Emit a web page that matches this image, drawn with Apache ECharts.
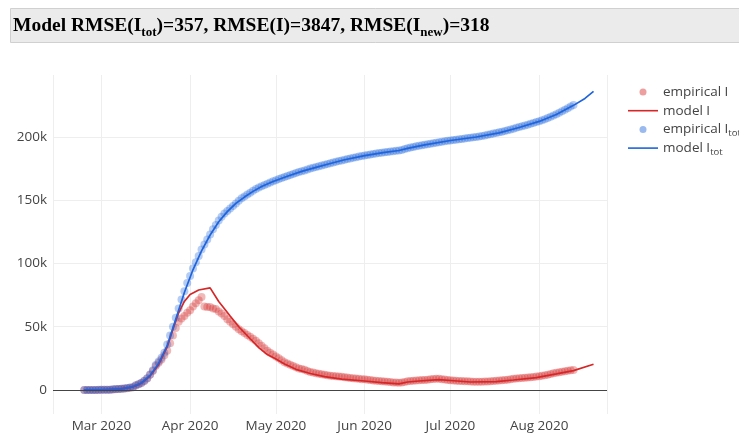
<!DOCTYPE html>
<html>
<head>
<meta charset="utf-8">
<script src="https://cdn.jsdelivr.net/npm/echarts@6/dist/echarts.min.js"></script>
<style>
html, body { margin: 0; padding: 0; background: #fff; }
#chartmain { width: 739px; height: 435px; }
</style>
</head>
<body>
<div id="chartmain"></div>
<script>
// daily empirical data, first day 2020-02-24, values in thousands
var empStart = [2020, 1, 24];
var empI = [
    0.02, 0.02, 0.03, 0.04, 0.05, 0.07,
    0.12, 0.15, 0.19, 0.24, 0.45, 0.64, 0.78, 1.0, 1.15, 1.4, 1.85, 2.05, 3.6, 4.5, 5.6, 7.1,
    9, 12, 15, 19, 21.5, 24, 27.5, 31, 37, 43, 49, 54, 56.5, 58.5, 61,
    63, 66, 68.5, 71, 73.5, 66, 65.5, 65.5, 64.5, 64, 62, 60.5, 58.5, 56, 54,
    52, 50, 48, 46.5, 45, 43.5, 42, 40.5, 39, 37, 35, 33, 31, 29.5, 28,
    26.5, 25, 23.5, 22, 21, 20, 19, 18, 17, 16.5, 16, 15, 14.3, 13.8, 13.2,
    12.8, 12.4, 12, 11.6, 11.3, 11, 10.8, 10.6, 10.4, 10.1, 9.8, 9.5, 9.2, 9, 8.8, 8.5,
    8.4, 8.1, 7.8, 7.5, 7.2, 7, 6.8, 6.6, 6.4, 6.2, 6, 5.9, 5.8, 5.9, 6.3,
    6.8, 7.1, 7.3, 7.5, 7.7, 7.8, 7.9, 8.0, 8.4, 8.7, 8.9, 8.8, 8.5, 8.2, 7.9,
    7.7, 7.5, 7.3, 7.1, 7.0, 6.9, 6.8, 6.6, 6.5, 6.5, 6.5, 6.5, 6.6, 6.7, 6.9,
    7.0, 7.2, 7.4, 7.6, 7.8, 8.1, 8.5, 8.8, 9.0, 9.2, 9.4, 9.6, 9.8, 10.0, 10.3, 10.6,
    10.9, 11.3, 11.7, 12.1, 12.6, 13.2, 13.6, 14.0, 14.4, 14.8, 15.2, 15.5, 15.8
];
var empItot = [
    0.02, 0.02, 0.03, 0.05, 0.06, 0.08,
    0.13, 0.16, 0.2, 0.26, 0.48, 0.67, 0.8, 1.04, 1.18, 1.46, 1.9, 2.1, 3.7, 4.6, 5.8, 7.3,
    9.3, 12.3, 15.5, 19.8, 22.5, 25.5, 29.5, 36, 43, 50, 57, 64.5, 71.5, 78, 84.5,
    90, 96, 101, 106, 111, 115, 119, 123, 127, 130.5, 134, 137, 139.5, 141.5, 143.5,
    145.5, 147.5, 149.5, 151.5, 153, 154.5, 156, 157.5, 158.8, 160, 161, 162, 163, 164, 165,
    165.8, 166.7, 167.5, 168.3, 169.2, 170, 170.8, 171.6, 172.3, 173, 173.6, 174.3, 175, 175.6, 176.2,
    176.8, 177.4, 178, 178.6, 179.2, 179.8, 180.4, 181, 181.5, 182, 182.5, 183, 183.5, 184, 184.5, 185,
    185.4, 185.8, 186.2, 186.6, 187, 187.3, 187.6, 187.9, 188.2, 188.5, 188.8, 189.1, 189.4, 189.8, 190.5,
    191.1, 191.6, 192.1, 192.6, 193, 193.4, 193.8, 194.2, 194.6, 195, 195.4, 195.8, 196.2, 196.6, 197,
    197.3, 197.6, 197.9, 198.2, 198.5, 198.8, 199.1, 199.4, 199.7, 200, 200.4, 200.8, 201.2, 201.7, 202.2,
    202.7, 203.2, 203.7, 204.2, 204.8, 205.4, 206, 206.6, 207.2, 207.8, 208.4, 209, 209.7, 210.4, 211.1, 211.8,
    212.5, 213.3, 214.1, 215, 216, 217, 218, 219.2, 220.4, 221.6, 222.8, 224, 225.2
];

// model curves
var modelIDates = ['2020-02-24', '2020-03-01', '2020-03-08', '2020-03-12', '2020-03-15', '2020-03-18',
    '2020-03-21', '2020-03-24', '2020-03-26', '2020-03-28', '2020-03-30', '2020-04-01', '2020-04-04',
    '2020-04-08', '2020-04-11', '2020-04-15', '2020-04-18', '2020-04-22', '2020-04-25', '2020-04-28',
    '2020-05-01', '2020-05-04', '2020-05-08', '2020-05-13', '2020-05-18', '2020-05-24', '2020-06-01',
    '2020-06-07', '2020-06-13', '2020-06-16', '2020-06-20', '2020-06-27', '2020-07-01', '2020-07-08',
    '2020-07-17', '2020-07-23', '2020-07-31', '2020-08-07', '2020-08-13', '2020-08-20'];
var modelI = [0, 0.1, 0.9, 2.4, 5.4, 11,
    20, 34, 48, 61, 70, 75.5, 79,
    80.7, 70, 58.5, 50, 40.5, 33.5, 28,
    24.5, 20.5, 16.3, 13, 10.5, 8.5, 7.1,
    5.8, 4.8, 6.3, 7.1, 8.2, 7.5, 6.3,
    6.6, 7.9, 9.8, 12.7, 15.3, 20.3];

var modelTotDates = ['2020-02-24', '2020-03-01', '2020-03-08', '2020-03-12', '2020-03-15', '2020-03-18',
    '2020-03-21', '2020-03-24', '2020-03-27', '2020-03-30', '2020-04-02', '2020-04-05', '2020-04-08',
    '2020-04-11', '2020-04-14', '2020-04-17', '2020-04-20', '2020-04-23', '2020-04-26', '2020-04-30',
    '2020-05-05', '2020-05-10', '2020-05-15', '2020-05-20', '2020-05-25', '2020-06-01', '2020-06-08',
    '2020-06-13', '2020-06-16', '2020-06-22', '2020-07-01', '2020-07-10', '2020-07-18', '2020-07-25',
    '2020-08-01', '2020-08-07', '2020-08-13', '2020-08-17', '2020-08-20'];
var modelTot = [0, 0.1, 0.9, 2.5, 5.5, 11.5,
    21, 35, 56, 77, 95, 110, 122.5,
    133, 141, 147.5, 152.5, 157, 160.8, 164.8,
    169, 172.8, 176, 179, 182, 185.3, 187.8,
    189.3, 191, 193.7, 197.2, 200, 203.3, 207.5,
    212.3, 217.8, 225, 230.5, 236];

function empPairs(vals) {
    var out = [];
    for (var i = 0; i < vals.length; i++) {
        out.push([new Date(empStart[0], empStart[1], empStart[2] + i).getTime(), vals[i]]);
    }
    return out;
}
function modelPairs(dates, vals) {
    var out = [];
    for (var i = 0; i < dates.length; i++) {
        var p = dates[i].split('-');
        out.push([new Date(+p[0], +p[1] - 1, +p[2]).getTime(), vals[i]]);
    }
    return out;
}

var legendNames = {
    'empirical I': 'empirical I',
    'model I': 'model I',
    'empirical Itot': 'empirical I{sub|tot}',
    'model Itot': 'model I{sub|tot}'
};

var font = '"Open Sans", Verdana, Arial, sans-serif';
var lineIcon = 'path://M0,0h30v1.6h-30z';
var red = 'rgb(214,39,40)';
var blue = 'rgb(31,100,220)';

var option = {
    animation: false,
    backgroundColor: '#fff',
    graphic: [{
        type: 'rect',
        shape: { x: 10.5, y: 8.5, width: 740, height: 34 },
        style: { fill: '#ebebeb', stroke: '#d0d0d0', lineWidth: 1 },
        z: 0
    }],
    title: {
        left: 13,
        top: 12,
        padding: 0,
        text: '{b|Model RMSE(I}{s|tot}{b|)=357, RMSE(I)=3847, RMSE(I}{s|new}{b|)=318}',
        textStyle: {
            rich: {
                b: { fontFamily: '"Liberation Serif", "Times New Roman", serif', fontWeight: 'bold', fontSize: 19.5, color: '#000' },
                s: { fontFamily: '"Liberation Serif", "Times New Roman", serif', fontWeight: 'bold', fontSize: 13, color: '#000', padding: [14, 0, 0, 0] }
            }
        }
    },
    legend: {
        orient: 'vertical',
        left: 623,
        top: 78,
        itemWidth: 30,
        itemHeight: 7,
        itemGap: 0.7,
        data: [
            { name: 'empirical I', icon: 'circle', itemStyle: { color: red, opacity: 0.45 } },
            { name: 'model I', icon: lineIcon },
            { name: 'empirical Itot', icon: 'circle', itemStyle: { color: blue, opacity: 0.45 } },
            { name: 'model Itot', icon: lineIcon }
        ],
        formatter: function (name) { return legendNames[name]; },
        textStyle: {
            fontFamily: font,
            fontSize: 13.5,
            color: '#444',
            lineHeight: 18,
            rich: {
                sub: { fontFamily: font, fontSize: 9.5, color: '#444', padding: [8, 0, 0, 0] }
            }
        }
    },
    grid: {
        left: 53,
        right: 132,
        top: 75,
        bottom: 21
    },
    xAxis: {
        type: 'time',
        min: new Date(2020, 1, 13, 2).getTime(),
        max: new Date(2020, 7, 24, 17).getTime(),
        splitNumber: 6,
        axisLine: { show: false },
        axisTick: { show: false },
        axisLabel: {
            formatter: '{MMM} {yyyy}',
            fontFamily: font,
            fontSize: 13.5,
            color: '#444',
            margin: 5
        },
        splitLine: { show: true, lineStyle: { color: '#eee', width: 1 } }
    },
    yAxis: {
        type: 'value',
        min: -19,
        max: 249,
        splitNumber: 5,
        axisLine: { show: false },
        axisTick: { show: false },
        axisLabel: {
            fontFamily: font,
            fontSize: 13.5,
            color: '#444',
            margin: 6,
            showMinLabel: false,
            showMaxLabel: false,
            formatter: function (v) { return v === 0 ? '0' : v + 'k'; }
        },
        splitLine: {
            show: true,
            showMinLine: false,
            showMaxLine: false,
            lineStyle: { color: '#eee', width: 1 }
        }
    },
    series: [{
        name: 'empirical I',
        type: 'scatter',
        data: empPairs(empI),
        symbolSize: 8,
        itemStyle: { color: red, opacity: 0.33 },
        markLine: {
            silent: true,
            symbol: 'none',
            label: { show: false },
            lineStyle: { color: '#444', width: 1, type: 'solid', opacity: 1 },
            data: [{ yAxis: 0 }]
        }
    }, {
        name: 'model I',
        type: 'line',
        data: modelPairs(modelIDates, modelI),
        symbol: 'none',
        showSymbol: false,
        lineStyle: { color: red, width: 1.7 },
        itemStyle: { color: red }
    }, {
        name: 'empirical Itot',
        type: 'scatter',
        data: empPairs(empItot),
        symbolSize: 8,
        itemStyle: { color: blue, opacity: 0.33 }
    }, {
        name: 'model Itot',
        type: 'line',
        data: modelPairs(modelTotDates, modelTot),
        symbol: 'none',
        showSymbol: false,
        lineStyle: { color: blue, width: 1.7 },
        itemStyle: { color: blue }
    }]
};

var myChart = echarts.init(document.getElementById('chartmain'));
myChart.setOption(option);
</script>
</body>
</html>
